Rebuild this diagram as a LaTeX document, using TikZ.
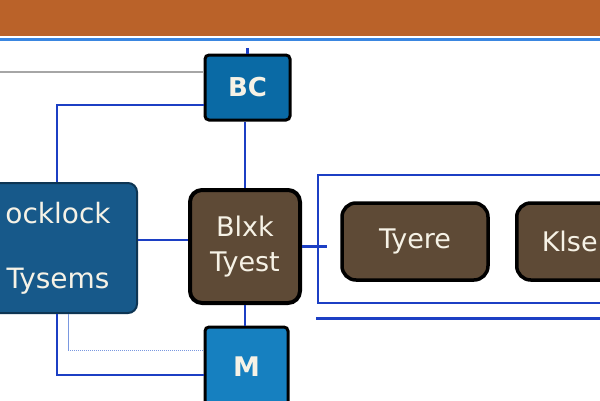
\documentclass[tikz,border=0pt]{standalone}
\usepackage{fontspec}
\setmainfont{DejaVu Sans}
\definecolor{topor}{HTML}{BA6229}
\definecolor{topblue}{HTML}{3A86E0}
\definecolor{lockblue}{HTML}{17598A}
\definecolor{bcblue}{HTML}{0A6AA5}
\definecolor{mblue}{HTML}{1680C0}
\definecolor{brownf}{HTML}{5E4A36}
\definecolor{cblue}{HTML}{1C3FC4}
\definecolor{lblue}{HTML}{7A98E0}
\definecolor{txtc}{HTML}{F6F2E6}
\tikzset{
  conn/.style={cblue, line width=2.2pt},
  sqbox/.style={draw=black, line width=3pt, rounded corners=4pt, text=txtc, inner sep=0pt},
  brbox/.style={draw=black, fill=brownf, line width=3.5pt, rounded corners=14pt, text=txtc, inner sep=0pt, font=\fontsize{27}{35}\selectfont, align=center},
}
\begin{document}
\begin{tikzpicture}[x=1pt,y=-1pt]
\useasboundingbox (0,0) rectangle (600,400);
\clip (0,0) rectangle (600,400);
\fill[white] (0,0) rectangle (600,400);
\fill[topor] (0,0) rectangle (600,36);
\draw[topblue, line width=2.5pt] (0,39.5) -- (600,39.5);

% nodes
\node[sqbox, fill=bcblue, minimum width=85pt, minimum height=65pt, font=\fontsize{26}{30}\selectfont\bfseries] (bc) at (247.5,87.5) {BC};
\node[draw=lockblue!60!black, fill=lockblue, line width=2pt, rounded corners=9pt, minimum width=158pt, minimum height=130pt, text=txtc, align=center, font=\fontsize{28}{65}\selectfont, inner sep=0pt] (lock) at (58,248) {\raisebox{-4pt}{ocklock}\\\raisebox{-4pt}{Tysems}};
\node[brbox, line width=4pt, rounded corners=12pt, minimum width=110pt, minimum height=113pt] (blxk) at (245,246.5) {\raisebox{-3pt}{Blxk}\\\raisebox{-3pt}{Tyest}};
\node[sqbox, fill=mblue, minimum width=83pt, minimum height=83pt, font=\fontsize{27}{30}\selectfont\bfseries] (m) at (246.5,368.5) {\raisebox{3pt}{M}};
\node[draw=cblue, line width=2.5pt, minimum width=322pt, minimum height=128pt, inner sep=0pt] (box) at (479,239) {};
\node[brbox, minimum width=146pt, minimum height=77pt] (tyere) at (415,241.5) {Tyere};
\node[brbox, anchor=west, minimum height=77pt, text width=97pt, align=left, inner xsep=25pt] (klse) at (515,241.5) {Klse};

% coordinates
\coordinate (g0) at (0,72);
\coordinate (c1) at (57,105);
\coordinate (c2) at (57,375);
\coordinate (c3) at (68,350);
\coordinate (bl0) at (316,318);
\coordinate (bl1) at (600,318);

% connectors
\draw[gray!70, line width=1.2pt] (g0) -- (g0 -| bc.west);
\draw[conn] (c1 -| bc.west) -- (c1) -- (c1 |- lock.north);
\draw[conn] (bc.north) -- ++(0,-6);
\draw[conn] (blxk.north) -- (blxk.north |- bc.south);
\draw[conn] (blxk.south) -- (blxk.south |- m.north);
\draw[conn] ([yshift=8pt]lock.east) -- ([yshift=8pt]lock.east -| blxk.west);
\draw[conn] (blxk.east) -- ([xshift=10pt]blxk.east -| box.west);
\draw[conn] (c2 |- lock.south) -- (c2) -- (c2 -| m.west);
\draw[lblue, line width=1pt] (c3 |- lock.south) -- (c3);
\draw[lblue, line width=1pt, densely dotted] (c3) -- (c3 -| m.west);
\draw[cblue, line width=3pt] (bl0) -- (bl1);
\end{tikzpicture}
\end{document}
